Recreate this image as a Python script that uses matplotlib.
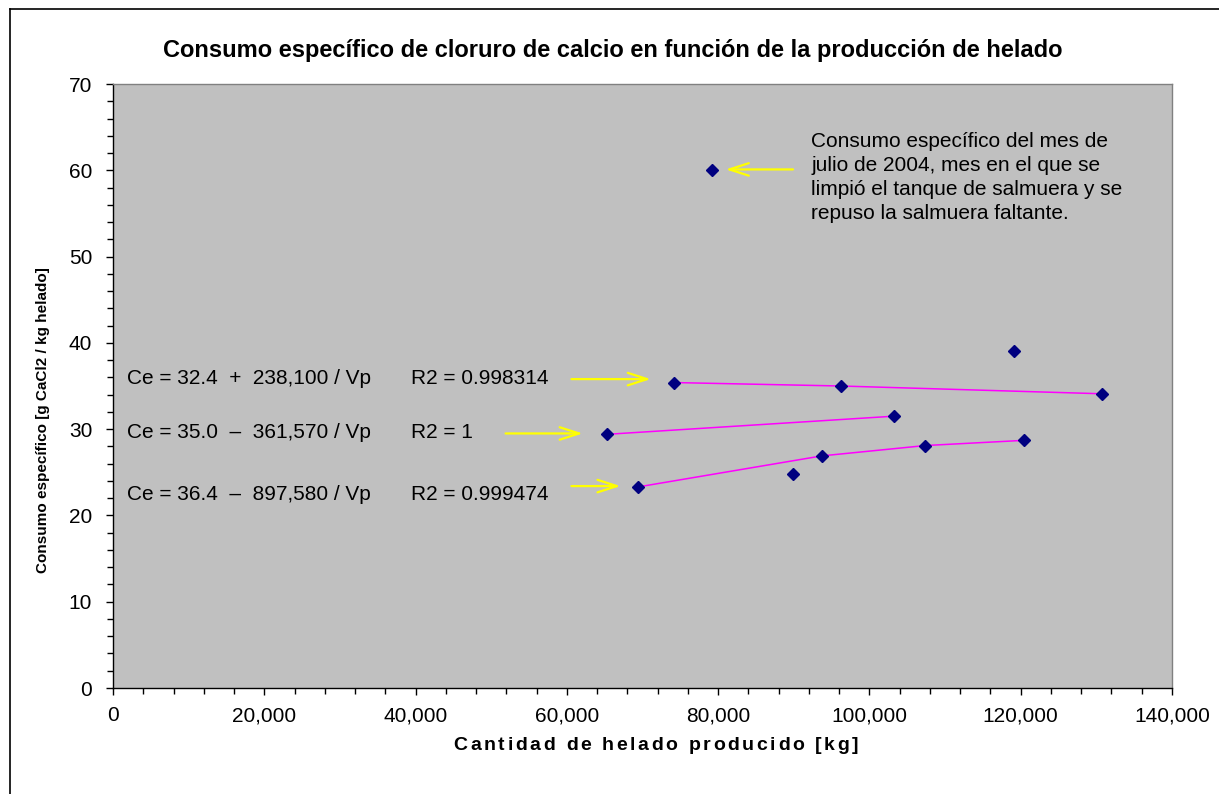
import matplotlib
matplotlib.use("Agg")
import matplotlib.pyplot as plt
from matplotlib.ticker import MultipleLocator, FuncFormatter
from matplotlib import font_manager
from matplotlib.font_manager import FontProperties
from matplotlib.textpath import TextToPath
from matplotlib.lines import Line2D

W, H = 1219, 794
DPI = 100

# ---- data ----
grp1_x = [74100, 96200, 130700]
grp1_y = [35.4, 35.0, 34.1]
grp2_x = [65300, 103200]
grp2_y = [29.4, 31.5]
grp3_x = [69400, 93700, 107400, 120400]
grp3_y = [23.3, 26.9, 28.1, 28.7]
other_x = [89900, 119100, 79200]
other_y = [24.8, 39.0, 60.0]

eq_labels = ["Ce = 32.4  +  238,100 / Vp", "Ce = 35.0  \u2013  361,570 / Vp", "Ce = 36.4  \u2013  897,580 / Vp"]
r2_labels = ["R2 = 0.998314", "R2 = 1", "R2 = 0.999474"]
note_text = ("Consumo específico del mes de\njulio de 2004, mes en el que se\n"
             "limpió el tanque de salmuera y se\nrepuso la salmuera faltante.")
title = "Consumo específico de cloruro de calcio en función de la producción de helado"
xlabel = "Cantidad de helado producido [kg]"
ylabel = "Consumo específico [g CaCl2 / kg helado]"

names = {f.name for f in font_manager.fontManager.ttflist}
FONT = "Liberation Sans" if "Liberation Sans" in names else "DejaVu Sans"
plt.rcParams['font.family'] = [FONT, 'DejaVu Sans']

fig = plt.figure(figsize=(W / DPI, H / DPI), dpi=DPI)
fig.patch.set_facecolor("white")

def px2fig(x, y):
    return x / W, 1 - y / H

L, R, T, B = 113, 1172, 84, 688
ax = fig.add_axes([L / W, 1 - B / H, (R - L) / W, (B - T) / H])
ax.set_facecolor("#C0C0C0")
ax.set_xlim(0, 140000)
ax.set_ylim(0, 70)
ax.xaxis.set_major_locator(MultipleLocator(20000))
ax.xaxis.set_minor_locator(MultipleLocator(4000))
ax.yaxis.set_major_locator(MultipleLocator(10))
ax.yaxis.set_minor_locator(MultipleLocator(2))
ax.xaxis.set_major_formatter(FuncFormatter(lambda v, p: f"{int(v):,}"))
ax.tick_params(axis='both', which='both', direction='out', color='black', labelsize=15, width=1)
ax.tick_params(axis='both', which='major', length=5)
ax.tick_params(axis='both', which='minor', length=4)
ax.tick_params(axis='x', which='major', pad=8)
ax.tick_params(axis='y', which='major', pad=10)
for s in ['top', 'right']:
    ax.spines[s].set_color('#808080')
    ax.spines[s].set_linewidth(1)
for s in ['left', 'bottom']:
    ax.spines[s].set_color('black')
    ax.spines[s].set_linewidth(1)

# trend lines
for gx, gy in [(grp1_x, grp1_y), (grp2_x, grp2_y), (grp3_x, grp3_y)]:
    ax.plot(gx, gy, color='#FF00FF', lw=1.1, zorder=3)

# points
all_x = grp1_x + grp2_x + grp3_x + other_x
all_y = grp1_y + grp2_y + grp3_y + other_y
ax.plot(all_x, all_y, linestyle='none', marker='D', markersize=6,
        color='#000080', zorder=4)

# equation texts
eq_y = [35.9, 29.6, 22.4]
for lab, r2, yy in zip(eq_labels, r2_labels, eq_y):
    ax.text(1850, yy, lab, fontsize=15, va='center', ha='left', color='black')
    ax.text(39400, yy, r2, fontsize=15, va='center', ha='left', color='black')

arrow_kw = dict(arrowstyle='->,head_length=1.4,head_width=0.45', color='#FFFF00',
                lw=1.6, shrinkA=0, shrinkB=0)
arrows = [((60600, 35.8), (71100, 35.8)),
          ((51900, 29.5), (62100, 29.5)),
          ((60600, 23.4), (67100, 23.4)),
          ((89900, 60.1), (81000, 60.1))]
for start, end in arrows:
    ax.annotate("", xy=end, xytext=start, arrowprops=arrow_kw, zorder=5)

ax.text(92300, 64.4, note_text, fontsize=15, va='top', ha='left',
        linespacing=1.32, color='black')

# title
fig.text(*px2fig(613, 51), title, fontsize=17, fontweight='bold', ha='center', va='center')

# x label with letter spacing (drawn char by char)
xl_prop = FontProperties(family=[FONT], weight='bold', size=14)
t2p = TextToPath()
def tw(s):
    if not s:
        return 0.0
    w, h, d = t2p.get_text_width_height_descent(s, xl_prop, ismath=False)
    return w * DPI / 72.0
natural = tw(xlabel)
target_w = 405.0
extra = max(0.0, (target_w - natural) / (len(xlabel) - 1))
total = natural + extra * (len(xlabel) - 1)
x0 = 656 - total / 2
for i, ch in enumerate(xlabel):
    if ch == ' ':
        continue
    xp = x0 + tw(xlabel[:i]) + i * extra
    fig.text(xp / W, 1 - 746 / H, ch, fontproperties=xl_prop, ha='left', va='center')

# y label
fig.text(*px2fig(43, 420), ylabel, fontsize=11, fontweight='bold', ha='center', va='center',
         rotation=90)

# outer chart frame (left and top edges)
fig.add_artist(Line2D([10 / W, 10 / W], [0, 1 - 9 / H], transform=fig.transFigure,
                      color='black', lw=1.2))
fig.add_artist(Line2D([10 / W, 1], [1 - 9 / H, 1 - 9 / H], transform=fig.transFigure,
                      color='black', lw=1.2))

fig.savefig("out.png", dpi=DPI, facecolor=fig.get_facecolor())
